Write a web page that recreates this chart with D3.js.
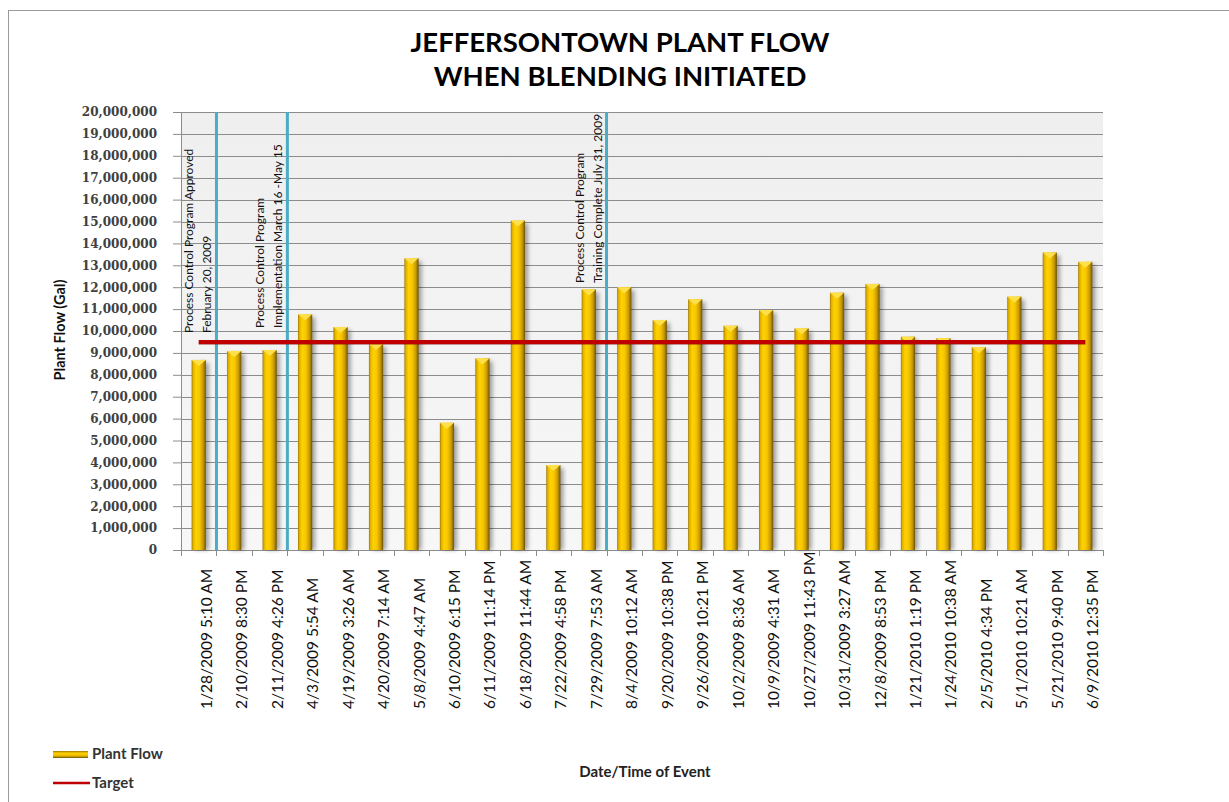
<!DOCTYPE html>
<html>
<head>
<meta charset="utf-8">
<script src="https://cdn.jsdelivr.net/npm/d3@7"></script>
<style>
  body { margin: 0; background: #fff; }
  svg { display: block; }
</style>
</head>
<body>
<div id="chart"></div>
<script>
const categories = [
  '1/28/2009 5:10 AM', '2/10/2009 8:30 PM', '2/11/2009 4:26 PM', '4/3/2009 5:54 AM',
  '4/19/2009 3:26 AM', '4/20/2009 7:14 AM', '5/8/2009 4:47 AM', '6/10/2009 6:15 PM',
  '6/11/2009 11:14 PM', '6/18/2009 11:44 AM', '7/22/2009 4:58 PM', '7/29/2009 7:53 AM',
  '8/4/2009 10:12 AM', '9/20/2009 10:38 PM', '9/26/2009 10:21 PM', '10/2/2009 8:36 AM',
  '10/9/2009 4:31 AM', '10/27/2009 11:43 PM', '10/31/2009 3:27 AM', '12/8/2009 8:53 PM',
  '1/21/2010 1:19 PM', '1/24/2010 10:38 AM', '2/5/2010 4:34 PM', '5/1/2010 10:21 AM',
  '5/21/2010 9:40 PM', '6/9/2010 12:35 PM'
];

const plantFlow = [
  8680000, 9090000, 9130000, 10760000, 10180000, 9410000, 13320000, 5810000,
  8750000, 15040000, 3880000, 11900000, 12000000, 10500000, 11450000, 10240000,
  10960000, 10120000, 11750000, 12150000, 9740000, 9670000, 9260000, 11570000,
  13590000, 13160000
];

const target = [
  9500000, 9500000, 9500000, 9500000, 9500000, 9500000, 9500000, 9500000,
  9500000, 9500000, 9500000, 9500000, 9500000, 9500000, 9500000, 9500000,
  9500000, 9500000, 9500000, 9500000, 9500000, 9500000, 9500000, 9500000,
  9500000, 9500000
];

const yTicks = [0, 1e6, 2e6, 3e6, 4e6, 5e6, 6e6, 7e6, 8e6, 9e6, 10e6, 11e6, 12e6,
  13e6, 14e6, 15e6, 16e6, 17e6, 18e6, 19e6, 20e6];

// milestone lines sit after these categories
const milestoneAfter = ['1/28/2009 5:10 AM', '2/11/2009 4:26 PM', '7/29/2009 7:53 AM'];
const milestoneText = [
  ['Process Control Program  Approved', 'February 20, 2009'],
  ['Process Control Program', 'Implementation March 16 -May 15'],
  ['Process Control Program', 'Training Complete July 31, 2009']
];

const titleLines = ['JEFFERSONTOWN PLANT FLOW', 'WHEN BLENDING INITIATED'];

const W = 1229, H = 802;
const plot = { left: 181, right: 1103, top: 112, bottom: 550 };
const sans = 'Lato, Carlito, Calibri, sans-serif';

const svg = d3.select('#chart').append('svg')
  .attr('width', W)
  .attr('height', H);

const defs = svg.append('defs');

const barGrad = defs.append('linearGradient').attr('id', 'barGrad')
  .attr('x1', '0%').attr('x2', '100%').attr('y1', '0%').attr('y2', '0%');
[['0%', '#9c7800'], ['10%', '#e0b000'], ['30%', '#ffd200'], ['55%', '#f7c600'],
 ['80%', '#c99b00'], ['100%', '#6e5200']].forEach(s => {
  barGrad.append('stop').attr('offset', s[0]).attr('stop-color', s[1]);
});

const legGrad = defs.append('linearGradient').attr('id', 'legGrad')
  .attr('x1', '0%').attr('x2', '0%').attr('y1', '0%').attr('y2', '100%');
[['0%', '#9c7800'], ['30%', '#ffd200'], ['70%', '#e8b800'], ['100%', '#6e5200']].forEach(s => {
  legGrad.append('stop').attr('offset', s[0]).attr('stop-color', s[1]);
});

const bgGrad = defs.append('linearGradient').attr('id', 'bgGrad')
  .attr('x1', '0%').attr('x2', '0%').attr('y1', '0%').attr('y2', '100%');
bgGrad.append('stop').attr('offset', '0%').attr('stop-color', '#efefef');
bgGrad.append('stop').attr('offset', '100%').attr('stop-color', '#f7f7f7');

defs.append('filter').attr('id', 'blur')
  .attr('x', '-50%').attr('y', '-10%').attr('width', '200%').attr('height', '120%')
  .append('feGaussianBlur').attr('stdDeviation', 2);

// outer frame
svg.append('rect')
  .attr('x', 8.5).attr('y', 10.5)
  .attr('width', W + 20).attr('height', H + 20)
  .attr('fill', '#fff')
  .attr('stroke', '#9a9a9a');

// title
svg.append('g').selectAll('text')
  .data(titleLines)
  .enter()
  .append('text')
  .attr('x', 620)
  .attr('y', (d, i) => 52 + i * 34)
  .attr('text-anchor', 'middle')
  .attr('font-family', sans)
  .attr('font-weight', 'bold')
  .attr('font-size', '27.5px')
  .attr('fill', '#000')
  .text(d => d);

const xScale = d3.scaleBand()
  .domain(categories)
  .range([plot.left, plot.right])
  .padding(0);

const yScale = d3.scaleLinear()
  .domain([0, 20000000])
  .range([plot.bottom, plot.top]);

// plot background
svg.append('rect')
  .attr('x', plot.left).attr('y', plot.top)
  .attr('width', plot.right - plot.left)
  .attr('height', plot.bottom - plot.top)
  .attr('fill', 'url(#bgGrad)');

// gridlines
svg.append('g').selectAll('line')
  .data(yTicks.filter(d => d > 0))
  .enter()
  .append('line')
  .attr('x1', plot.left).attr('x2', plot.right)
  .attr('y1', d => Math.round(yScale(d)) + 0.5)
  .attr('y2', d => Math.round(yScale(d)) + 0.5)
  .attr('stroke', '#8c8c8c')
  .attr('stroke-width', 1);

// y axis
const yAxis = svg.append('g')
  .attr('transform', `translate(${plot.left}, 0)`)
  .call(d3.axisLeft(yScale).tickValues(yTicks).tickSize(8).tickPadding(16).tickFormat(d3.format(',')));
yAxis.select('.domain').attr('stroke', '#8c8c8c');
yAxis.selectAll('.tick line').attr('stroke', '#8c8c8c');
yAxis.selectAll('.tick text')
  .attr('font-family', '"DejaVu Serif", serif')
  .attr('font-weight', 'bold')
  .attr('font-size', '12px')
  .attr('fill', '#404040');

// x axis with ticks at the band edges
const bandEdges = categories.map(c => xScale(c)).concat([plot.right]);
svg.append('line')
  .attr('x1', plot.left).attr('x2', plot.right)
  .attr('y1', plot.bottom + 0.5).attr('y2', plot.bottom + 0.5)
  .attr('stroke', '#8c8c8c');
svg.append('g').selectAll('line')
  .data(bandEdges)
  .enter()
  .append('line')
  .attr('x1', d => Math.round(d) + 0.5).attr('x2', d => Math.round(d) + 0.5)
  .attr('y1', plot.bottom).attr('y2', plot.bottom + 6)
  .attr('stroke', '#8c8c8c');

svg.append('g').selectAll('text')
  .data(categories)
  .enter()
  .append('text')
  .attr('transform', d => `translate(${xScale(d) + xScale.bandwidth() / 2 + 13}, 709) rotate(-90)`)
  .attr('text-anchor', 'start')
  .attr('font-family', sans)
  .attr('font-size', '15.5px')
  .attr('fill', '#111')
  .text(d => d);

// bars
const barW = xScale.bandwidth() * 0.4;
const bars = svg.append('g').selectAll('g')
  .data(plantFlow)
  .enter()
  .append('g')
  .attr('transform', (d, i) => `translate(${xScale(categories[i]) + xScale.bandwidth() / 2 - barW / 2}, 0)`);

bars.append('rect')
  .attr('x', 3).attr('y', d => yScale(d) + 3)
  .attr('width', barW)
  .attr('height', d => plot.bottom - yScale(d) - 3)
  .attr('fill', '#000')
  .attr('opacity', 0.35)
  .attr('filter', 'url(#blur)');

bars.append('rect')
  .attr('x', 0).attr('y', d => yScale(d))
  .attr('width', barW)
  .attr('height', d => plot.bottom - yScale(d))
  .attr('fill', 'url(#barGrad)');

// bevel on top of each bar
bars.append('path')
  .attr('d', d => `M0,${yScale(d)} L${barW},${yScale(d)} L${barW / 2},${yScale(d) + 6} Z`)
  .attr('fill', '#ffe04a');

// milestone lines
svg.append('g').selectAll('line')
  .data(milestoneAfter)
  .enter()
  .append('line')
  .attr('x1', d => xScale(d) + xScale.bandwidth())
  .attr('x2', d => xScale(d) + xScale.bandwidth())
  .attr('y1', plot.top).attr('y2', plot.bottom)
  .attr('stroke', '#4bacc6')
  .attr('stroke-width', 3);

// target line
const targetLine = d3.line()
  .x((d, i) => xScale(categories[i]) + xScale.bandwidth() / 2)
  .y(d => yScale(d));

svg.append('path')
  .datum(target)
  .attr('d', targetLine)
  .attr('transform', 'translate(0, 1)')
  .attr('fill', 'none')
  .attr('stroke', '#7a0000')
  .attr('stroke-opacity', 0.4)
  .attr('stroke-width', 4);

svg.append('path')
  .datum(target)
  .attr('d', targetLine)
  .attr('fill', 'none')
  .attr('stroke', '#c00000')
  .attr('stroke-width', 4);

// milestone notes, two rotated lines each
const noteBaseY = [333, 328, 283];
milestoneAfter.forEach((m, k) => {
  const edge = xScale(m) + xScale.bandwidth();
  milestoneText[k].forEach((t, j) => {
    svg.append('text')
      .attr('transform', `translate(${edge - 23 + j * 18}, ${noteBaseY[k]}) rotate(-90)`)
      .attr('text-anchor', 'start')
      .attr('font-family', sans)
      .attr('font-size', '12px')
      .attr('fill', '#111')
      .text(t);
  });
});

// axis titles
svg.append('text')
  .attr('transform', 'translate(65, 330) rotate(-90)')
  .attr('text-anchor', 'middle')
  .attr('font-family', sans)
  .attr('font-weight', 'bold')
  .attr('font-size', '14.5px')
  .attr('fill', '#111')
  .text('Plant Flow (Gal)');

svg.append('text')
  .attr('x', 645)
  .attr('y', 777)
  .attr('text-anchor', 'middle')
  .attr('font-family', sans)
  .attr('font-weight', 'bold')
  .attr('font-size', '15px')
  .attr('fill', '#222')
  .text('Date/Time of Event');

// legend
const legend = svg.append('g');
legend.append('rect')
  .attr('x', 53).attr('y', 751)
  .attr('width', 35).attr('height', 7)
  .attr('fill', 'url(#legGrad)');
legend.append('line')
  .attr('x1', 53).attr('x2', 90)
  .attr('y1', 783).attr('y2', 783)
  .attr('stroke', '#c00000')
  .attr('stroke-width', 2.5);
legend.selectAll('text')
  .data(['Plant Flow', 'Target'])
  .enter()
  .append('text')
  .attr('x', 92)
  .attr('y', (d, i) => 759 + i * 29)
  .attr('font-family', sans)
  .attr('font-weight', 'bold')
  .attr('font-size', '15px')
  .attr('fill', '#333')
  .text(d => d);
</script>
</body>
</html>
